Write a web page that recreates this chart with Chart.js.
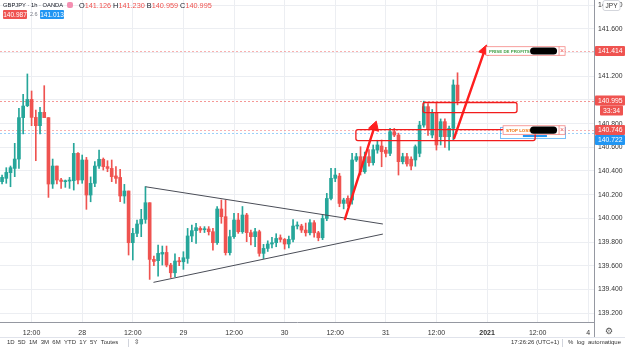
<!DOCTYPE html>
<html><head><meta charset="utf-8">
<script src="https://cdn.jsdelivr.net/npm/chart.js@4.4.1/dist/chart.umd.min.js"></script>
<style>
html,body{margin:0;padding:0;background:#fff;}
#wrap{position:relative;width:625px;height:348px;overflow:hidden;font-family:"Liberation Sans",Arial,sans-serif;color:#131722;}
#cv{position:absolute;left:0;top:0;}
.a{position:absolute;white-space:nowrap;line-height:1;}
.r{color:#ef5350;}
.tag{position:absolute;color:#fff;font-size:6.5px;text-align:center;line-height:9px;height:9px;border-radius:1px;}
.tb{position:absolute;top:339px;font-size:6px;color:#333;white-space:nowrap;line-height:1;}
</style></head>
<body><div id="wrap">
<canvas id="cv" width="625" height="337"></canvas>
<div class="a" style="left:3px;top:2.5px;font-size:5.8px;">GBPJPY · 1h · OANDA</div>
<div class="a" style="left:67px;top:2px;width:6px;height:6px;border-radius:2px;background:#f48fb1;"></div>
<div class="a" style="left:79px;top:2px;font-size:7.3px;">O<span class="r">141.126</span> H<span class="r">141.230</span> B<span class="r">140.959</span> C<span class="r">140.995</span></div>
<div class="tag" style="left:3px;top:10px;width:24px;background:#ef5350;">140.987</div>
<div class="a" style="left:30px;top:12px;font-size:5.5px;color:#787b86;">2.6</div>
<div class="tag" style="left:40px;top:10px;width:24px;background:#2196f3;">141.013</div>
<div class="a" style="left:594px;top:322px;width:1px;height:15px;background:#9598a1;"></div>
<div class="a" style="left:0;top:337px;width:625px;height:1px;background:#e0e3eb;"></div>
<div class="a" style="left:605px;top:327px;font-size:9px;color:#555;font-family:'DejaVu Sans';">⚙</div>
<div class="tb" style="left:7px;">1D&nbsp;&nbsp;5D&nbsp;&nbsp;1M&nbsp;&nbsp;3M&nbsp;&nbsp;6M&nbsp;&nbsp;YTD&nbsp;&nbsp;1Y&nbsp;&nbsp;5Y&nbsp;&nbsp;Toutes</div>
<div class="a" style="left:128px;top:339px;width:1px;height:8px;background:#d1d4dc;"></div>
<div class="tb" style="left:134px;font-family:'DejaVu Sans';font-size:6.5px;">⇳</div>
<div class="tb" style="left:511px;">17:26:26 (UTC+1)</div>
<div class="a" style="left:562px;top:339px;width:1px;height:8px;background:#d1d4dc;"></div>
<div class="tb" style="left:568px;">%&nbsp;&nbsp;log&nbsp;&nbsp;automatique</div>
</div>
<script>
// ---------- data ----------
const candleHours = [-7,-6,-5,-4,-3,-2,-1,0,1,2,3,4,5,6,7,8,9,10,11,12,13,14,15,16,17,18,19,20,21,22,23,24,25,26,27,28,29,30,31,32,33,34,35,36,37,38,39,40,41,42,43,44,45,46,47,48,49,50,51,52,53,54,55,56,57,58,59,60,61,62,63,64,65,66,67,68,69,70,71,72,73,74,75,76,77,78,79,80,81,82,83,84,85,86,87,88,89,90,91,92,93,94,95,96,97,98,99,100,101];
const openPrices = [140.310,140.338,140.386,140.422,140.501,140.851,140.952,141.005,140.853,140.783,140.896,140.851,140.290,140.442,140.324,140.310,140.315,140.318,140.549,140.324,140.493,140.197,140.296,140.442,140.499,140.437,140.422,140.358,140.346,140.189,140.231,139.794,139.873,139.952,139.991,140.132,139.653,139.642,139.698,139.712,139.605,139.540,139.639,139.633,139.661,139.851,139.896,139.915,139.904,139.910,139.887,139.794,140.079,140.014,139.710,139.845,139.986,139.887,140.028,139.879,139.845,139.887,139.704,139.746,139.783,139.794,139.836,139.822,139.783,139.822,139.935,139.935,139.901,139.878,139.963,139.878,139.836,139.999,140.168,140.338,140.357,140.126,140.169,140.155,140.493,140.521,140.394,140.521,140.470,140.577,140.611,140.577,140.549,140.732,140.704,140.479,140.521,140.500,140.493,140.549,140.788,140.944,140.704,140.890,140.690,140.817,140.690,140.760,141.126];
const highPrices = [140.366,140.428,140.442,140.634,140.929,141.048,141.220,141.076,140.915,140.938,141.121,140.851,140.501,140.442,140.338,140.324,140.346,140.634,140.555,140.535,140.515,140.350,140.479,140.577,140.510,140.487,140.493,140.437,140.414,140.287,140.231,139.915,139.986,140.076,140.268,140.132,139.680,139.774,139.766,139.766,139.620,139.700,139.670,139.718,139.915,139.944,139.958,139.930,139.930,139.930,139.915,140.100,140.155,140.155,139.900,140.042,140.042,140.100,140.042,139.901,139.915,139.900,139.780,139.810,139.840,139.870,139.860,139.830,139.850,139.990,139.970,139.950,139.960,139.990,139.980,139.890,140.030,140.211,140.422,140.422,140.380,140.170,140.190,140.550,140.549,140.605,140.560,140.580,140.620,140.660,140.662,140.600,140.760,140.760,140.720,140.550,140.550,140.520,140.620,140.820,140.990,140.970,140.920,140.972,140.840,140.840,140.780,141.170,141.230];
const lowPrices = [140.290,140.296,140.267,140.352,140.422,140.713,140.944,140.783,140.487,140.713,140.851,140.177,140.253,140.290,140.253,140.262,140.253,140.239,140.290,140.296,140.076,140.140,140.267,140.422,140.408,140.394,140.310,140.296,140.141,140.127,139.690,139.648,139.845,139.845,139.958,139.484,139.600,139.512,139.605,139.590,139.500,139.507,139.600,139.569,139.620,139.803,139.789,139.880,139.880,139.859,139.732,139.780,139.958,139.690,139.690,139.830,139.873,139.873,139.803,139.775,139.761,139.680,139.660,139.720,139.750,139.760,139.800,139.740,139.750,139.800,139.910,139.880,139.850,139.860,139.840,139.810,139.820,139.980,140.155,140.310,140.098,140.080,140.100,140.120,140.480,140.366,140.380,140.440,140.450,140.550,140.436,140.520,140.530,140.690,140.366,140.460,140.440,140.410,140.440,140.520,140.770,140.700,140.680,140.577,140.620,140.600,140.577,140.662,140.959];
const closePrices = [140.346,140.388,140.428,140.501,140.851,140.949,141.005,140.853,140.783,140.896,140.851,140.290,140.442,140.324,140.312,140.318,140.324,140.549,140.324,140.493,140.197,140.296,140.442,140.499,140.437,140.422,140.352,140.338,140.189,140.231,139.794,139.873,139.952,139.991,140.132,139.653,139.636,139.704,139.712,139.605,139.540,139.639,139.633,139.667,139.851,139.896,139.921,139.901,139.910,139.887,139.794,140.079,140.014,139.710,139.845,139.986,139.887,140.028,139.879,139.845,139.887,139.704,139.746,139.783,139.794,139.830,139.822,139.783,139.822,139.935,139.943,139.901,139.878,139.963,139.878,139.836,139.999,140.168,140.338,140.366,140.126,140.155,140.126,140.493,140.521,140.394,140.521,140.470,140.580,140.620,140.563,140.549,140.732,140.704,140.479,140.521,140.460,140.442,140.605,140.788,140.944,140.750,140.887,140.620,140.817,140.690,140.760,141.127,140.995];

const xTickHours  = [0,12,24,36,48,60,72,84,96,108,120,132];
const xTickLabels = ['12:00','28','12:00','29','12:00','30','12:00','31','12:00','2021','12:00','4'];
const yTickValues = [139.2,139.4,139.6,139.8,140.0,140.2,140.4,140.6,140.8,141.0,141.2,141.4,141.6,141.8];

// drawings, in (hour, price) units
const triangleUpper = [[27.0,140.267],[83.3,139.952]];
const triangleLower = [[28.9,139.459],[83.3,139.867]];
const arrowOne = [[74.3,139.994],[81.3,140.773]];
const arrowTwo = [[100.2,140.679],[107.4,141.417]];
const zoneLow  = [76.9,119.4,140.750,140.657];
const zoneHigh = [92.8,115.1,140.979,140.894];
const levelPrices = [141.414,140.995,140.746,140.722];
const takeProfit = {h0:107.75,h1:126.5,price:141.414,b0:118.2,b1:124.6,text:'PRISE DE PROFITS'};
const stopLoss   = {h0:111.8,h1:126.5,price:140.746,b0:118.2,b1:124.6,text:'STOP LOSS'};
const stopFrame  = [111.1,126.5,140.774,140.679];
const stopBar    = [116.5,122.2,140.704,140.687];
const axisTags = [
  {price:141.414,text:'141.414',kind:'red'},
  {price:140.995,text:'140.995',kind:'red'},
  {price:140.995,text:'33:34',kind:'red'},
  {price:140.746,text:'140.746',kind:'red'},
  {price:140.722,text:'140.722',kind:'blue'}
];

// ---------- styles ----------
const FONT = '"Liberation Sans", Arial, sans-serif';
const UP = '#26a69a', DOWN = '#ef5350';
const X_MIN = -7.49, X_MAX = 133.36, Y_MIN = 139.124, Y_MAX = 141.845;
const GRID = '#eceef2';

const pts = arr => arr.map(p => ({x:p[0], y:p[1]}));
const isUp = i => closePrices[i] >= openPrices[i];

function arrowRotation(ctx){
  const d = ctx.dataset.data, xs = ctx.chart.scales.x, ys = ctx.chart.scales.y;
  const dx = xs.getPixelForValue(d[1].x) - xs.getPixelForValue(d[0].x);
  const dy = ys.getPixelForValue(d[1].y) - ys.getPixelForValue(d[0].y);
  return Math.atan2(dx, -dy) * 180 / Math.PI;
}
function arrowDataset(points){
  return {type:'line', data:pts(points), borderColor:'#ff1f1f', borderWidth:2.4, order:0,
    pointRadius:[0,6], pointStyle:'triangle', pointBackgroundColor:'#ff1f1f', pointBorderColor:'#ff1f1f',
    pointBorderWidth:1, rotation: arrowRotation, borderCapStyle:'round'};
}

const levelPlugin = {
  id:'levels',
  beforeDatasetsDraw(chart){
    const {ctx, chartArea:a, scales:{y}} = chart;
    const cols = ['rgba(239,83,80,0.45)','rgba(239,83,80,0.6)','rgba(239,83,80,0.45)','rgba(33,150,243,0.45)'];
    ctx.save(); ctx.lineWidth = 1; ctx.setLineDash([2,2]);
    levelPrices.forEach((p,i) => {
      const py = Math.round(y.getPixelForValue(p)) + 0.5;
      ctx.strokeStyle = cols[i]; ctx.beginPath(); ctx.moveTo(a.left,py); ctx.lineTo(a.right,py); ctx.stroke();
    });
    ctx.restore();
  }
};

function rr(ctx,x,y,w,h,r){ ctx.beginPath(); ctx.roundRect(x,y,w,h,r); }

const drawingsPlugin = {
  id:'drawings',
  afterDatasetsDraw(chart){
    const {ctx, scales:{x:xs, y:ys}} = chart;
    ctx.save();
    {
      const x0 = xs.getPixelForValue(stopFrame[0]), x1 = xs.getPixelForValue(stopFrame[1]);
      const y0 = ys.getPixelForValue(stopFrame[2]), y1 = ys.getPixelForValue(stopFrame[3]);
      ctx.strokeStyle = 'rgba(33,150,243,0.6)'; ctx.lineWidth = 1;
      ctx.strokeRect(Math.round(x0)+0.5, Math.round(y0)+0.5, Math.round(x1-x0), Math.round(y1-y0));
      const b0 = xs.getPixelForValue(stopBar[0]), b1 = xs.getPixelForValue(stopBar[1]);
      const c0 = ys.getPixelForValue(stopBar[2]), c1 = ys.getPixelForValue(stopBar[3]);
      ctx.fillStyle = '#2196f3'; ctx.fillRect(b0, c0, b1-b0, Math.max(1.5, c1-c0));
    }
    ctx.strokeStyle = '#f21c1c'; ctx.lineWidth = 1.3;
    [zoneLow, zoneHigh].forEach(z => {
      const x0 = xs.getPixelForValue(z[0]), x1 = xs.getPixelForValue(z[1]);
      const y0 = ys.getPixelForValue(z[2]), y1 = ys.getPixelForValue(z[3]);
      rr(ctx, x0, y0, x1-x0, y1-y0, 2); ctx.stroke();
    });
    [[takeProfit,'#43a047'],[stopLoss,'#ef6c00']].forEach(([L,tc]) => {
      const x0 = xs.getPixelForValue(L.h0), x1 = xs.getPixelForValue(L.h1);
      const yc = ys.getPixelForValue(L.price);
      ctx.fillStyle = '#fff'; ctx.strokeStyle = 'rgba(239,83,80,0.7)'; ctx.lineWidth = 0.8;
      ctx.fillRect(x0, yc-4.3, x1-x0, 8.6); ctx.strokeRect(x0, yc-4.3, x1-x0, 8.6);
      ctx.fillStyle = tc; ctx.font = 'bold 4.4px ' + FONT; ctx.textBaseline = 'middle'; ctx.textAlign = 'left';
      ctx.fillText(L.text, x0+3, yc+0.3);
      const b0 = xs.getPixelForValue(L.b0), b1 = xs.getPixelForValue(L.b1);
      ctx.fillStyle = '#000'; rr(ctx, b0, yc-3.6, b1-b0, 7.2, 3.5); ctx.fill();
      ctx.strokeStyle = 'rgba(239,83,80,0.7)'; ctx.beginPath(); ctx.moveTo(x1-6, yc-4.3); ctx.lineTo(x1-6, yc+4.3); ctx.stroke();
      ctx.fillStyle = '#ef5350'; ctx.font = '7px ' + FONT; ctx.textAlign = 'center';
      ctx.fillText('×', x1-3, yc+0.3);
    });
    ctx.restore();
  }
};

const tagsPlugin = {
  id:'tags',
  afterDraw(chart){
    const {ctx, chartArea:a, scales:{y:ys}} = chart;
    ctx.save();
    let prevBottom = -100;
    axisTags.forEach(t => {
      let yc = ys.getPixelForValue(t.price);
      if (yc - 5 < prevBottom) yc = prevBottom + 5;
      prevBottom = yc + 5;
      const narrow = t.text.indexOf(':') >= 0;
      const x0 = narrow ? a.right + 6 : a.right + 1, w = narrow ? 23 : 30;
      ctx.fillStyle = t.kind === 'blue' ? '#2196f3' : '#ef5350';
      rr(ctx, x0, yc-5, w, 10, 1); ctx.fill();
      ctx.fillStyle = '#fff'; ctx.font = '6.8px ' + FONT; ctx.textBaseline = 'middle';
      ctx.textAlign = narrow ? 'center' : 'left';
      ctx.fillText(t.text, narrow ? x0 + w/2 : a.right + 4, yc + 0.5);
    });
    ctx.fillStyle = '#fff'; ctx.strokeStyle = '#c9ccd3'; ctx.lineWidth = 0.8;
    rr(ctx, a.right + 9, 0.5, 17, 10, 2); ctx.fill(); ctx.stroke();
    ctx.fillStyle = '#333'; ctx.font = '6.5px ' + FONT; ctx.textAlign = 'center'; ctx.textBaseline = 'middle';
    ctx.fillText('JPY', a.right + 17.5, 6);
    ctx.restore();
  }
};

function noPad(s){ s.paddingTop = 0; s.paddingBottom = 0; s.paddingLeft = 0; s.paddingRight = 0; }

new Chart(document.getElementById('cv'), {
  data: {
    datasets: [
      arrowDataset(arrowOne),
      arrowDataset(arrowTwo),
      {type:'line', data:pts(triangleUpper), borderColor:'#4a4d57', borderWidth:1, pointRadius:0, order:1},
      {type:'line', data:pts(triangleLower), borderColor:'#4a4d57', borderWidth:1, pointRadius:0, order:1},
      {type:'bar', data:candleHours.map((h,i) => ({x:h, y:[openPrices[i], closePrices[i]]})),
        backgroundColor:candleHours.map((h,i) => isUp(i) ? UP : DOWN),
        barThickness:3, minBarLength:1, grouped:false, borderWidth:0, order:2},
      {type:'bar', data:candleHours.map((h,i) => ({x:h, y:[lowPrices[i], highPrices[i]]})),
        backgroundColor:candleHours.map((h,i) => isUp(i) ? UP : DOWN),
        barThickness:1, minBarLength:1, grouped:false, borderWidth:0, order:3}
    ]
  },
  options: {
    responsive:false, animation:false, events:[],
    layout:{padding:0, autoPadding:false},
    plugins:{legend:{display:false}, tooltip:{enabled:false}},
    scales:{
      x:{type:'linear', position:'bottom', min:X_MIN, max:X_MAX, offset:false,
        afterBuildTicks: s => { s.ticks = xTickHours.map(v => ({value:v})); },
        afterFit: s => { s.height = 15; noPad(s); },
        ticks:{autoSkip:false, maxRotation:0, padding:7, color:'#333',
          font: c => ({family:FONT, size:7, weight:(c.tick && c.tick.value === 108) ? 'bold' : 'normal'}),
          callback: v => { const i = xTickHours.indexOf(v); return i >= 0 ? xTickLabels[i] : ''; }},
        grid:{color:GRID, drawTicks:false, offset:false},
        border:{color:'#9598a1'}},
      y:{type:'linear', position:'right', min:Y_MIN, max:Y_MAX,
        afterBuildTicks: s => { s.ticks = yTickValues.map(v => ({value:v})); },
        afterFit: s => { s.width = 31; noPad(s); },
        ticks:{padding:4, color:'#333', font:{family:FONT, size:6.8}, callback: v => Number(v).toFixed(3)},
        grid:{color:GRID, drawTicks:false},
        border:{color:'#9598a1'}}
    }
  },
  plugins:[levelPlugin, drawingsPlugin, tagsPlugin]
});
</script>
</body></html>
